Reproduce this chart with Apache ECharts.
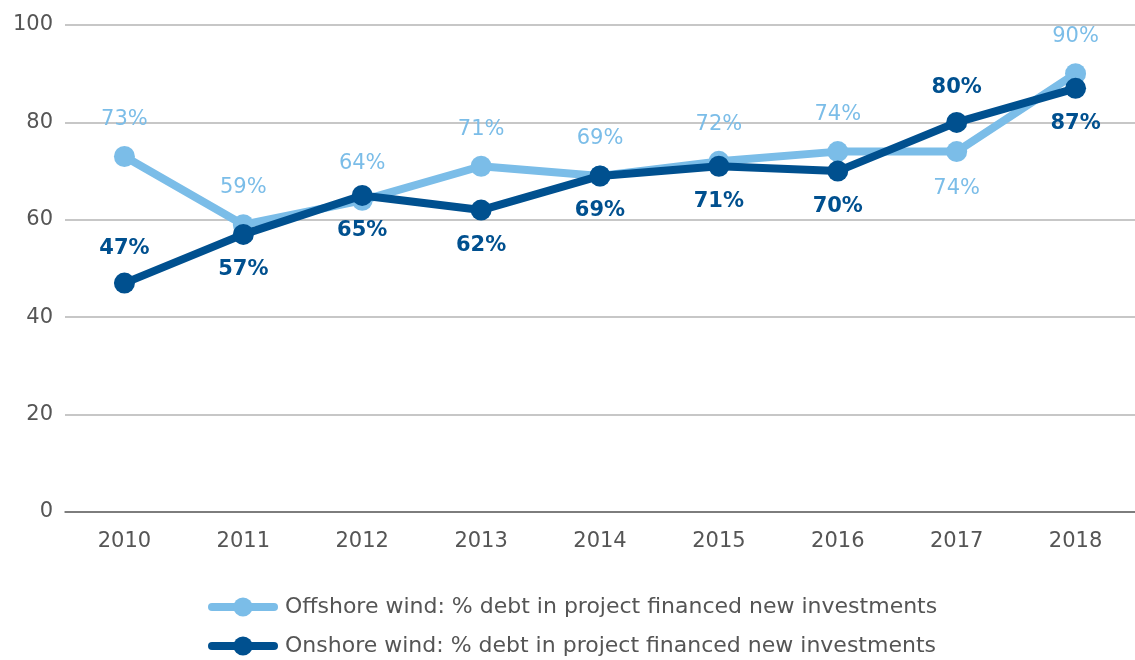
<!DOCTYPE html>
<html lang="en">
<head>
    <meta charset="UTF-8">
    <title>Wind debt share</title>
    <script type="text/javascript" src="https://cdn.jsdelivr.net/npm/echarts@6/dist/echarts.min.js"></script>
</head>
<body style="margin:0">
<div id="main" style="width: 1135px;height:660px;"></div>

<script type="text/javascript">
    var years = ['2010', '2011', '2012', '2013', '2014', '2015', '2016', '2017', '2018'];
    var offshore = [73, 59, 64, 71, 69, 72, 74, 74, 90];
    var onshore = [47, 57, 65, 62, 69, 71, 70, 80, 87];
    // where each label sits relative to its point
    var offshorePos = ['top', 'top', 'top', 'top', 'top', 'top', 'top', 'bottom', 'top'];
    var onshorePos = ['top', 'bottom', 'bottom', 'bottom', 'bottom', 'bottom', 'bottom', 'top', 'bottom'];

    var offName = 'Offshore wind: % debt in project financed new investments';
    var onName = 'Onshore wind: % debt in project financed new investments';

    var lightBlue = '#7bbde8';
    var darkBlue = '#00508f';
    var font = 'DejaVu Sans';

    function withLabels(values, pos, dist) {
        return values.map(function (v, i) {
            return {value: v, label: {position: pos[i], distance: dist}};
        });
    }

    // one legend per row so they stack like the original
    function legendRow(name, top) {
        return {
            left: 208,
            top: top,
            padding: 0,
            itemWidth: 62,
            itemHeight: 24,
            itemGap: 0,
            lineStyle: {width: 8, cap: 'round'},
            textStyle: {color: '#555', fontSize: 22, fontFamily: font, padding: [0, 0, 0, 6]},
            data: [name]
        };
    }

    var myChart = echarts.init(document.getElementById('main'));

    var option = {
        animation: false,
        grid: {left: 65, right: -2, top: 25, bottom: 148},
        xAxis: {
            type: 'category',
            data: years,
            boundaryGap: true,
            axisLine: {lineStyle: {color: '#666', width: 1.5}},
            axisTick: {show: false},
            axisLabel: {color: '#555', fontSize: 21, fontFamily: font, margin: 19}
        },
        yAxis: {
            type: 'value',
            min: 0,
            max: 100,
            interval: 20,
            axisLine: {show: false},
            axisTick: {show: false},
            splitLine: {lineStyle: {color: '#b4b4b4', width: 1.5}},
            axisLabel: {color: '#555', fontSize: 21, fontFamily: font, margin: 12}
        },
        legend: [legendRow(offName, 596), legendRow(onName, 635)],
        series: [
            {
                name: offName,
                type: 'line',
                data: withLabels(offshore, offshorePos, 16),
                symbol: 'circle',
                symbolSize: 21,
                lineStyle: {color: lightBlue, width: 8},
                itemStyle: {color: lightBlue},
                label: {
                    show: true,
                    formatter: '{c}%',
                    color: lightBlue,
                    fontSize: 21,
                    fontFamily: font
                },
                z: 2
            },
            {
                name: onName,
                type: 'line',
                data: withLabels(onshore, onshorePos, 14),
                symbol: 'circle',
                symbolSize: 21,
                lineStyle: {color: darkBlue, width: 8},
                itemStyle: {color: darkBlue},
                label: {
                    show: true,
                    formatter: '{c}%',
                    color: darkBlue,
                    fontSize: 21,
                    fontWeight: 'bold',
                    fontFamily: font
                },
                z: 3
            }
        ]
    };

    option && myChart.setOption(option);
</script>
</body>
</html>
